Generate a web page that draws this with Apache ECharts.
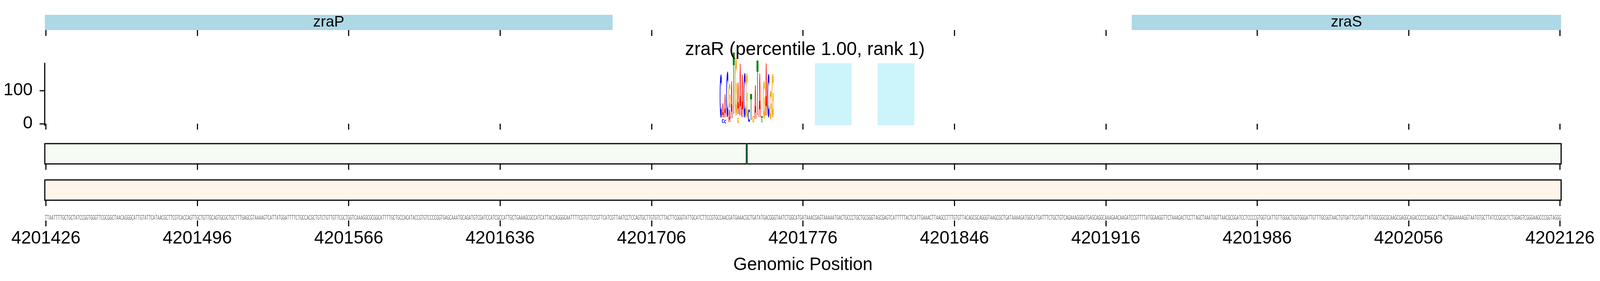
<!DOCTYPE html>
<html><head><meta charset="utf-8">
<script src="https://cdn.jsdelivr.net/npm/echarts@6/dist/echarts.min.js"></script>
<style>html,body{margin:0;padding:0;background:#fff;overflow:hidden}#c{width:100vw;height:100vh}</style>
</head><body><div id="c"></div>
<script>
// ---------- data ----------
const windowStart = 4201425.5;
const windowEnd = 4202126.5;
const tickValues = [4201426, 4201496, 4201566, 4201636, 4201706, 4201776, 4201846, 4201916, 4201986, 4202056, 4202126];
const yTickValues = [0, 100];
const logoYMin = -4.7;
const logoYMax = 182.4;

const geneNames = ['zraP', 'zraS'];
const geneStarts = [4201425.5, 4201928];
const geneEnds = [4201688, 4202126.5];

const titleText = 'zraR (percentile 1.00, rank 1)';
const xAxisTitle = 'Genomic Position';

// motif logo (bottom-to-top stacks, one per position)
const logoStart = 4201738;
const logoColumns = [
  [['C', 124]],
  [['C', 12], ['A', 43]],
  [['C', 10], ['A', 67]],
  [['C', 132]],
  [['A', 36], ['G', 70]],
  [['A', 108]],
  [['T', 182]],
  [['G', 167]],
  [['G', 15], ['A', 93]],
  [['A', 153]],
  [['A', 126]],
  [['C', 128]],
  [['G', 128]],
  [['C', 36]],
  [['T', 77]],
  [['G', 20]],
  [['A', 100]],
  [['T', 162]],
  [['A', 129]],
  [['T', 18]],
  [['G', 108]],
  [['A', 155]],
  [['C', 126]],
  [['G', 82]],
  [['G', 126]]
];

const highlightStarts = [4201781.5, 4201810.5];
const highlightEnds = [4201798.5, 4201827.5];

const peakPositions = [4201750];

const sequenceStart = 4201426;
const sequence =
  'TTAATTTTGCTGCTATCCGGTGGGTTCGCGGCTAACAGGGCATTGTATTCATAACGCTTCGTCACCAGTTGCTGTTGCAGTGCGCTGCTTTGAGCGTAAAAGTCATTATGGATTTTCTGCCACGCTGTCTGTTGTTCGCTGGTCAAAGGC' +
  'GCGGCATTTTGCTGCCACATACCGTGTCCCCGGTGAGCAAATGCAGATGTCGATCCATCGCCATTGCTGAAAGCGCCATCATTACCAGGGCAATTTTCGTGTTCCGTTCATCGTTAATCCTCCAGTGCTTGTGTCTTACTTCGGGTATTGCATCTTCCGTGCCAACGATGAAACGCTGATATGACG' +
  'GGTAATCTGGCATGATAAACGAGTAAAAATGACTGCCCTGCTGCGGGTAGCGAGTCATTTTTACTCATTGAAACTTAAGCCTTTGTGTTACAGCGCAGGGTAAGCGCTGATAAAAGATGGCATGATTTCTGCTGTCAGAAAGGGATGAGCAGGCAAAGAACAAGATCCGTTTTATGGAAGGTTCT' +
  'AAAGACTCCTTAGCTAAATGGTTAACGCGGATCCTCCCCGTGGTCATTGTTGGGCTGGTGGGATTGTTTGCGGTAACTGTGATTCGTGATTATGGCGGCGCAAGCGAGGCAGACCCCCAGGCATTACTGGAAAAAGGTAATGTGCTTATCCGCGCTCTGGAGTCGGGAAGCCCGGTAGGG';

// ---------- layout (designed for 4320x720, scaled to the real viewport) ----------
const el = document.getElementById('c');
const W = el.clientWidth || window.innerWidth || 4320;
const H = el.clientHeight || window.innerHeight || 720;
const sx = W / 4320, sy = H / 720, fs = Math.min(sx, sy);
const X = v => v * sx, Y = v => v * sy, F = v => v * fs;

const FONT = 'Liberation Sans';
const GLYPH_FONT = 'DejaVu Sans';
const letterColors = { A: '#ff0000', C: '#0000ff', G: '#ffa500', T: '#008000' };
const inkBold = { A: 77, C: 63, G: 70, T: 68 };
const inkBook = { A: 68, C: 58, G: 65, T: 61 };

function glyph(ch, xc, yc, w, h, color, bold, strokeW) {
  const ink = (bold ? inkBold : inkBook)[ch] || 64;
  const style = { text: ch, x: 0, y: -1.8, fontSize: 100, fontFamily: GLYPH_FONT, fontWeight: bold ? 'bold' : 'normal',
                  fill: color, align: 'center', verticalAlign: 'middle' };
  if (strokeW) { style.stroke = color; style.lineWidth = strokeW; style.strokeNoScale = true; }
  return { type: 'text', x: xc, y: yc, scaleX: w / ink, scaleY: h / 73, style: style };
}

// build tables
const logoData = [], logoLetters = [];
logoColumns.forEach((stack, i) => {
  let base = 0;
  stack.forEach(([ch, h]) => {
    logoData.push([logoStart + i, base, base + h]);
    logoLetters.push(ch);
    base += h;
  });
});
const seqLetters = sequence.split('');
const seqData = seqLetters.map((c, i) => [sequenceStart + i, 0, 1]);
const geneData = geneNames.map((n, i) => [geneStarts[i], geneEnds[i], 0, 1]);
const hlData = highlightStarts.map((s, i) => [s, highlightEnds[i], logoYMin, logoYMax]);
const peakData = peakPositions.map(p => [p, 0, 1]);

const L = X(121), R = X(105);
const grids = [
  { left: L, right: R, top: Y(38), height: Y(39) },
  { left: L, right: R, top: Y(162), height: Y(159) },
  { left: L, right: R, top: Y(368), height: Y(52), show: true, borderColor: '#000', borderWidth: F(3), backgroundColor: '#f6fbf3' },
  { left: L, right: R, top: Y(461), height: Y(52), show: true, borderColor: '#000', borderWidth: F(3), backgroundColor: '#fff5eb' },
  { left: L, right: R, top: Y(553), height: Y(12) }
];

function xAx(i, showLabel) {
  const ax = {
    gridIndex: i, type: 'value', min: windowStart, max: windowEnd,
    axisLine: { show: false }, splitLine: { show: false },
    axisTick: { show: true, customValues: tickValues, length: Y(15), lineStyle: { color: '#000', width: F(3) } },
    axisLabel: { show: showLabel, customValues: tickValues, fontSize: F(48), fontFamily: FONT, color: '#000', margin: Y(23), formatter: v => String(v) }
  };
  if (showLabel) {
    ax.name = xAxisTitle;
    ax.nameLocation = 'middle';
    ax.nameGap = Y(91);
    ax.nameTextStyle = { fontSize: F(48), fontFamily: FONT, color: '#000' };
  }
  return ax;
}
function hiddenY(i) {
  return { gridIndex: i, type: 'value', min: 0, max: 1, show: false };
}

const option = {
  animation: false,
  backgroundColor: '#ffffff',
  title: {
    text: titleText, left: X(2168), top: Y(99), textAlign: 'center',
    textStyle: { fontSize: F(50), fontFamily: FONT, fontWeight: 'normal', color: '#000' }
  },
  grid: grids,
  xAxis: [xAx(0, false), xAx(1, false), xAx(2, false), xAx(3, false), xAx(4, true)],
  yAxis: [
    hiddenY(0),
    {
      gridIndex: 1, type: 'value', min: logoYMin, max: logoYMax,
      axisLine: { show: true, lineStyle: { color: '#000', width: F(3) } },
      axisTick: { show: true, customValues: yTickValues, length: X(14), lineStyle: { color: '#000', width: F(3) } },
      axisLabel: { customValues: yTickValues, fontSize: F(47), fontFamily: FONT, color: '#000', margin: X(33) },
      splitLine: { show: false }
    },
    hiddenY(2), hiddenY(3), hiddenY(4)
  ],
  series: [
    {
      type: 'custom', name: 'genes', xAxisIndex: 0, yAxisIndex: 0, data: geneData,
      encode: { x: [0, 1], y: [2, 3] },
      renderItem: (params, api) => {
        const s = Math.max(api.value(0), windowStart), e = Math.min(api.value(1), windowEnd);
        const a = api.coord([s, 0]), b = api.coord([e, 1]);
        return {
          type: 'group', children: [
            { type: 'rect', shape: { x: a[0], y: b[1], width: b[0] - a[0], height: a[1] - b[1] }, style: { fill: '#add8e6' } },
            { type: 'text', x: (a[0] + b[0]) / 2, y: (a[1] + b[1]) / 2,
              style: { text: geneNames[params.dataIndex], fontSize: F(41), fontFamily: FONT, fill: '#000', align: 'center', verticalAlign: 'middle' } }
          ]
        };
      }
    },
    {
      type: 'custom', name: 'highlights', xAxisIndex: 1, yAxisIndex: 1, data: hlData, z: 1,
      encode: { x: [0, 1], y: [2, 3] },
      renderItem: (params, api) => {
        const a = api.coord([api.value(0), api.value(2)]), b = api.coord([api.value(1), api.value(3)]);
        return { type: 'rect', shape: { x: a[0], y: b[1], width: b[0] - a[0], height: a[1] - b[1] }, style: { fill: '#ccf4fb' } };
      }
    },
    {
      type: 'custom', name: 'logo', xAxisIndex: 1, yAxisIndex: 1, data: logoData, z: 3,
      encode: { x: 0, y: [1, 2] },
      renderItem: (params, api) => {
        const p = api.value(0);
        const a = api.coord([p - 0.5, api.value(1)]), b = api.coord([p + 0.5, api.value(2)]);
        const ch = logoLetters[params.dataIndex];
        return glyph(ch, (a[0] + b[0]) / 2, (a[1] + b[1]) / 2, (b[0] - a[0]) * 0.88, a[1] - b[1], letterColors[ch], true, F(1.1));
      }
    },
    {
      type: 'custom', name: 'peaks', xAxisIndex: 2, yAxisIndex: 2, data: peakData,
      encode: { x: 0, y: [1, 2] },
      renderItem: (params, api) => {
        const p = api.value(0);
        const a = api.coord([p - 0.43, 0]), b = api.coord([p + 0.43, 1]);
        return { type: 'rect', shape: { x: a[0], y: b[1], width: b[0] - a[0], height: a[1] - b[1] }, style: { fill: '#00592b' } };
      }
    },
    {
      type: 'custom', name: 'sequence', xAxisIndex: 4, yAxisIndex: 4, data: seqData,
      encode: { x: 0, y: [1, 2] },
      renderItem: (params, api) => {
        const p = api.value(0);
        const a = api.coord([p - 0.5, 0]), b = api.coord([p + 0.5, 1]);
        const ch = seqLetters[params.dataIndex];
        return glyph(ch, (a[0] + b[0]) / 2, (a[1] + b[1]) / 2, (b[0] - a[0]) * 0.9, a[1] - b[1], '#5f5f5f', false, 0);
      }
    }
  ]
};

const chart = echarts.init(el, null, { renderer: 'canvas' });
chart.setOption(option);
window.addEventListener('resize', () => chart.resize());
</script>
</body></html>
